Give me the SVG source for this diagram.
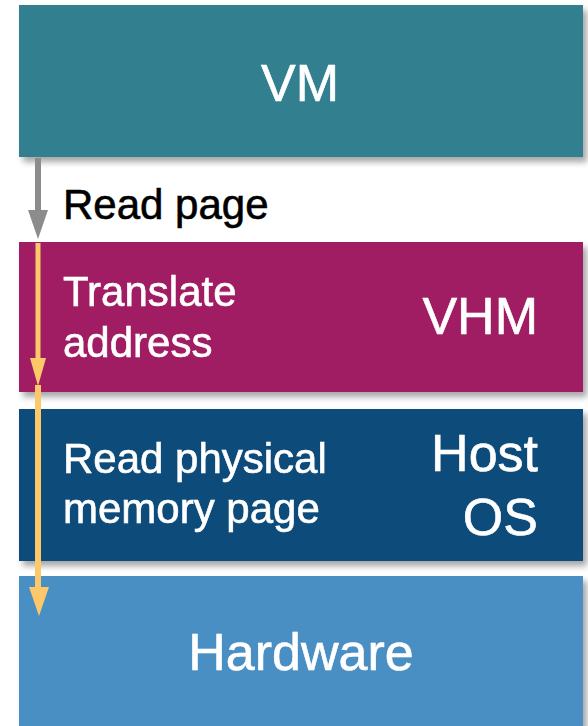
<svg xmlns="http://www.w3.org/2000/svg" width="588" height="726" viewBox="0 0 588 726">
  <style>
    .lbl { font-family: "Liberation Sans", Arial, sans-serif; fill: #ffffff; stroke: #ffffff; stroke-width: 0.6px; }
    .big { font-size: 52px; }
    .body { font-size: 42px; }
    .dark { fill: #000000; stroke: #000000; }
  </style>
  <defs>
    <filter id="shadow" x="-5%" y="-10%" width="112%" height="125%">
      <feDropShadow dx="4" dy="5" stdDeviation="3" flood-color="#000000" flood-opacity="0.35"/>
    </filter>
  </defs>
  <rect width="588" height="726" fill="#ffffff"/>

  <!-- layer stack -->
  <g id="vm" filter="url(#shadow)">
    <rect x="19" y="5" width="564" height="152" fill="#307F90"/>
    <text class="lbl big" x="300" y="101" text-anchor="middle">VM</text>
  </g>
  <g id="vhm" filter="url(#shadow)">
    <rect x="19" y="242" width="564" height="150" fill="#A01D63"/>
    <text class="lbl body" x="63" y="306">Translate</text>
    <text class="lbl body" x="63" y="357">address</text>
    <text class="lbl big" x="538" y="334" text-anchor="end">VHM</text>
  </g>
  <g id="hostos" filter="url(#shadow)">
    <rect x="19" y="409" width="564" height="152" fill="#0D4B7A"/>
    <text class="lbl body" x="63" y="473">Read physical</text>
    <text class="lbl body" x="63" y="523">memory page</text>
    <text class="lbl big" x="538" y="471" text-anchor="end">Host</text>
    <text class="lbl big" x="538" y="535" text-anchor="end">OS</text>
  </g>
  <g id="hardware" filter="url(#shadow)">
    <rect x="19" y="576" width="564" height="160" fill="#4A8FC3"/>
    <text class="lbl big" x="301" y="670" text-anchor="middle">Hardware</text>
  </g>

  <!-- connectors -->
  <g id="connectors">
    <line x1="38" y1="158" x2="38" y2="212" stroke="#8C8C8C" stroke-width="6"/>
    <polygon points="28,210 48,210 38,239" fill="#8C8C8C"/>
    <text class="lbl body dark" x="63" y="219">Read page</text>

    <line x1="38" y1="243" x2="38" y2="362" stroke="#FCC86A" stroke-width="5"/>
    <polygon points="30,358 46,358 38,386" fill="#FCC86A"/>

    <line x1="38" y1="385" x2="38" y2="590" stroke="#FCC86A" stroke-width="6"/>
    <polygon points="29,587 49,587 39,616" fill="#FCC86A"/>
  </g>
</svg>
